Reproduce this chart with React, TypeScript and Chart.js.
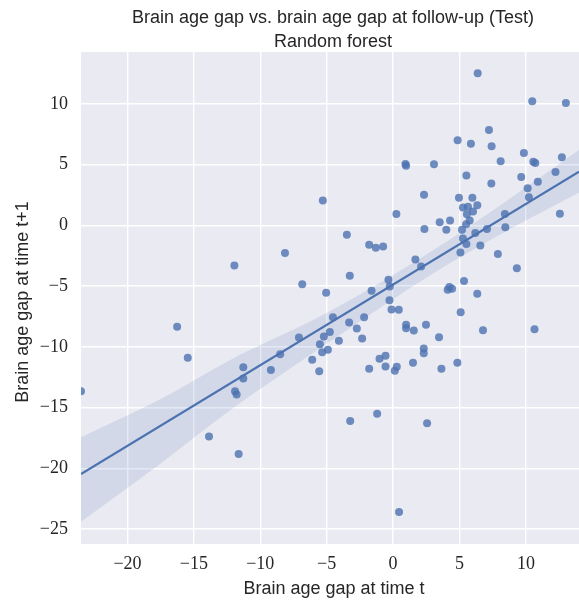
import React, { useEffect, useRef } from "react";
import { Chart, registerables } from "chart.js";

Chart.register(...registerables);

// Brain age gap at time t (x) and at follow-up t+1 (y), one entry per test subject
const gapT = [
  -23.5, -16.26, -15.46, -13.86, -11.63, -11.9, -11.78, -11.28, -11.28, -9.2,
  -8.5, -7.09, -6.09, -6.84, -11.95, -8.14, -5.56, -5.51, -5.34, -5.21,
  -4.91, -4.76, -4.53, -4.08, -3.31, -2.73, -2.33, -2.18, -1.8, -1.02,
  -0.57, -0.57, 0.13, 0.28, -0.12, 0.43, -0.27, 0.98, 0.98, 1.56,
  2.48, 2.31, 2.31, 1.5, 3.46, 3.64, 4.84, 5.09, 6.77, 10.65,
  -3.23, -1.2, 2.56, 0.45, 6.37, 10.48, 13.01, 7.22, 4.86, 5.86,
  7.42, 9.85, 10.56, 10.71, 12.71, 8.1, 0.93, 0.98, 3.08, 5.52,
  7.4, 9.65, 12.23, 10.9, 10.13, 10.23, 12.56, -5.29, 2.33, 4.96,
  5.97, 6.34, 5.26, 5.64, 6.02, 5.56, 8.42, 0.25, 5.77, 5.5,
  3.51, 4.29, 4.01, 2.36, 5.19, 6.19, 7.07, 8.45, 5.26, 5.52,
  6.57, 5.07, 7.89, 9.32, -3.48, -1.8, -1.3, -0.75, 1.68, 2.11,
  -5.04, -3.26, -1.62, -0.35, -0.25, 4.11, 4.24, 4.44, 5.34, 6.34,
];
const gapT1 = [
  -13.66, -8.35, -10.91, -17.39, -18.82, -13.66, -13.93, -11.68, -12.61, -11.9,
  -10.61, -9.23, -11.07, -4.84, -3.3, -2.28, -12.01, -9.78, -10.44, -9.15,
  -10.25, -8.79, -7.56, -9.51, -8.0, -8.49, -9.32, -7.56, -11.81, -10.99,
  -10.74, -11.62, -11.98, -11.65, -6.93, -6.95, -6.16, -8.19, -8.47, -8.66,
  -8.19, -10.14, -10.53, -11.32, -9.21, -11.81, -11.32, -7.15, -8.63, -8.55,
  -16.1, -15.52, -16.3, -23.6, 12.53, 10.22, 10.08, 7.86, 7.01, 6.73,
  6.51, 5.96, 5.25, 5.14, 5.61, 5.28, 5.05, 4.92, 5.03, 4.1,
  3.46, 3.98, 4.39, 3.6, 3.05, 2.31, 0.96, 2.06, 2.53, 2.28,
  2.28, 1.65, 1.48, 1.54, 1.15, 0.91, 0.93, 0.93, 0.41, 0.1,
  0.25, 0.41, -0.36, -0.3, -0.36, -0.63, -0.3, -0.16, -1.07, -1.54,
  -1.65, -2.23, -2.36, -3.54, -0.77, -1.59, -1.84, -1.73, -2.8, -3.38,
  -5.55, -4.15, -5.38, -4.48, -5.03, -5.3, -5.08, -5.22, -4.59, -5.63,
];

// Fitted regression line end points
const fitX = [-23.5, 14];
const fitY = [-20.47, 4.43];

// 95% confidence band of the fit
const bandX = [-23.5, -17.5, -12.3, -4.8, 2.8, 8.0, 14.0];
const bandUpper = [-17.45, -14.3, -11.1, -7.1, -2.2, 1.6, 6.2];
const bandLower = [-24.4, -19.6, -15.25, -9.6, -4.1, -0.8, 2.7];

// Axes
const xRange = [-23.5, 14];
const yRange = [-26.24, 14.28];
const xTicks = [-20, -15, -10, -5, 0, 5, 10];
const yTicks = [-25, -20, -15, -10, -5, 0, 5, 10];

const titleLines = [
  "Brain age gap vs. brain age gap at follow-up (Test)",
  "Random forest",
];
const xLabel = "Brain age gap at time t";
const yLabel = "Brain age gap at time t+1";

const BLUE = "#4C72B0";
const TEXT = "#262626";
const SANS = '"Liberation Sans", "DejaVu Sans", sans-serif';
const SERIF = '"Liberation Serif", "DejaVu Serif", serif';

const fmtTick = (v: number) => (v < 0 ? "\u2212" + Math.abs(v) : String(v));

const decor = {
  id: "decor",
  beforeDraw(chart: any) {
    const { ctx, chartArea: a } = chart;
    ctx.save();
    ctx.fillStyle = "#EAEAF2";
    ctx.fillRect(a.left, a.top, a.right - a.left, a.bottom - a.top);
    ctx.restore();
  },
  afterDraw(chart: any) {
    const { ctx } = chart;
    ctx.save();
    ctx.fillStyle = TEXT;
    ctx.font = "18px " + SANS;
    ctx.textAlign = "center";
    ctx.textBaseline = "alphabetic";
    ctx.fillText(titleLines[0], 333, 23);
    ctx.fillText(titleLines[1], 333, 47);
    ctx.fillText(xLabel, 334, 594);
    ctx.translate(28, 302);
    ctx.rotate(-Math.PI / 2);
    ctx.fillText(yLabel, 0, 0);
    ctx.restore();
  },
};

export default function App() {
  const ref = useRef<HTMLCanvasElement | null>(null);

  useEffect(() => {
    if (!ref.current) return;
    const points = gapT.map((x, i) => ({ x, y: gapT1[i] }));
    const fit = fitX.map((x, i) => ({ x, y: fitY[i] }));
    const upper = bandX.map((x, i) => ({ x, y: bandUpper[i] }));
    const lower = bandX.map((x, i) => ({ x, y: bandLower[i] }));

    const chart = new Chart(ref.current, {
      type: "scatter",
      data: {
        datasets: [
          {
            type: "scatter",
            data: points,
            backgroundColor: "rgba(76,114,176,0.8)",
            borderWidth: 0,
            pointRadius: 4,
            pointHoverRadius: 4,
            clip: 0,
            order: 3,
          },
          {
            type: "line",
            data: upper,
            borderWidth: 0,
            pointRadius: 0,
            backgroundColor: "rgba(76,114,176,0.15)",
            fill: "+1",
            cubicInterpolationMode: "monotone",
            clip: 0,
            order: 2,
          },
          {
            type: "line",
            data: lower,
            borderWidth: 0,
            pointRadius: 0,
            fill: false,
            cubicInterpolationMode: "monotone",
            clip: 0,
            order: 2,
          },
          {
            type: "line",
            data: fit,
            borderColor: BLUE,
            borderWidth: 2.2,
            pointRadius: 0,
            fill: false,
            clip: 0,
            order: 1,
          },
        ] as any,
      },
      options: {
        animation: false,
        responsive: false,
        devicePixelRatio: 1,
        layout: { autoPadding: false, padding: { top: 52, left: 0, right: 0, bottom: 0 } },
        plugins: {
          legend: { display: false },
          tooltip: { enabled: false },
          title: { display: false },
        },
        scales: {
          x: {
            type: "linear",
            min: xRange[0],
            max: xRange[1],
            afterBuildTicks: (s: any) => {
              s.ticks = xTicks.map((value) => ({ value }));
            },
            afterFit: (s: any) => {
              s.height = 57;
              s.paddingLeft = 0;
              s.paddingRight = 0;
            },
            grid: { color: "#FFFFFF", lineWidth: 1.4, drawTicks: false },
            border: { display: false },
            ticks: {
              font: { family: SERIF, size: 18 },
              color: TEXT,
              padding: 9,
              maxRotation: 0,
              callback: (v: any) => fmtTick(Number(v)),
            },
          },
          y: {
            type: "linear",
            min: yRange[0],
            max: yRange[1],
            afterBuildTicks: (s: any) => {
              s.ticks = yTicks.map((value) => ({ value }));
            },
            afterFit: (s: any) => {
              s.width = 81;
              s.paddingTop = 0;
              s.paddingBottom = 0;
            },
            grid: { color: "#FFFFFF", lineWidth: 1.4, drawTicks: false },
            border: { display: false },
            ticks: {
              font: { family: SERIF, size: 18 },
              color: TEXT,
              padding: 13,
              callback: (v: any) => fmtTick(Number(v)),
            },
          },
        },
      },
      plugins: [decor],
    });
    return () => chart.destroy();
  }, []);

  return (
    <div style={{ position: "absolute", left: 0, top: 0, width: 579, height: 601, background: "#FFFFFF" }}>
      <canvas ref={ref} width={579} height={601} style={{ display: "block" }} />
    </div>
  );
}
